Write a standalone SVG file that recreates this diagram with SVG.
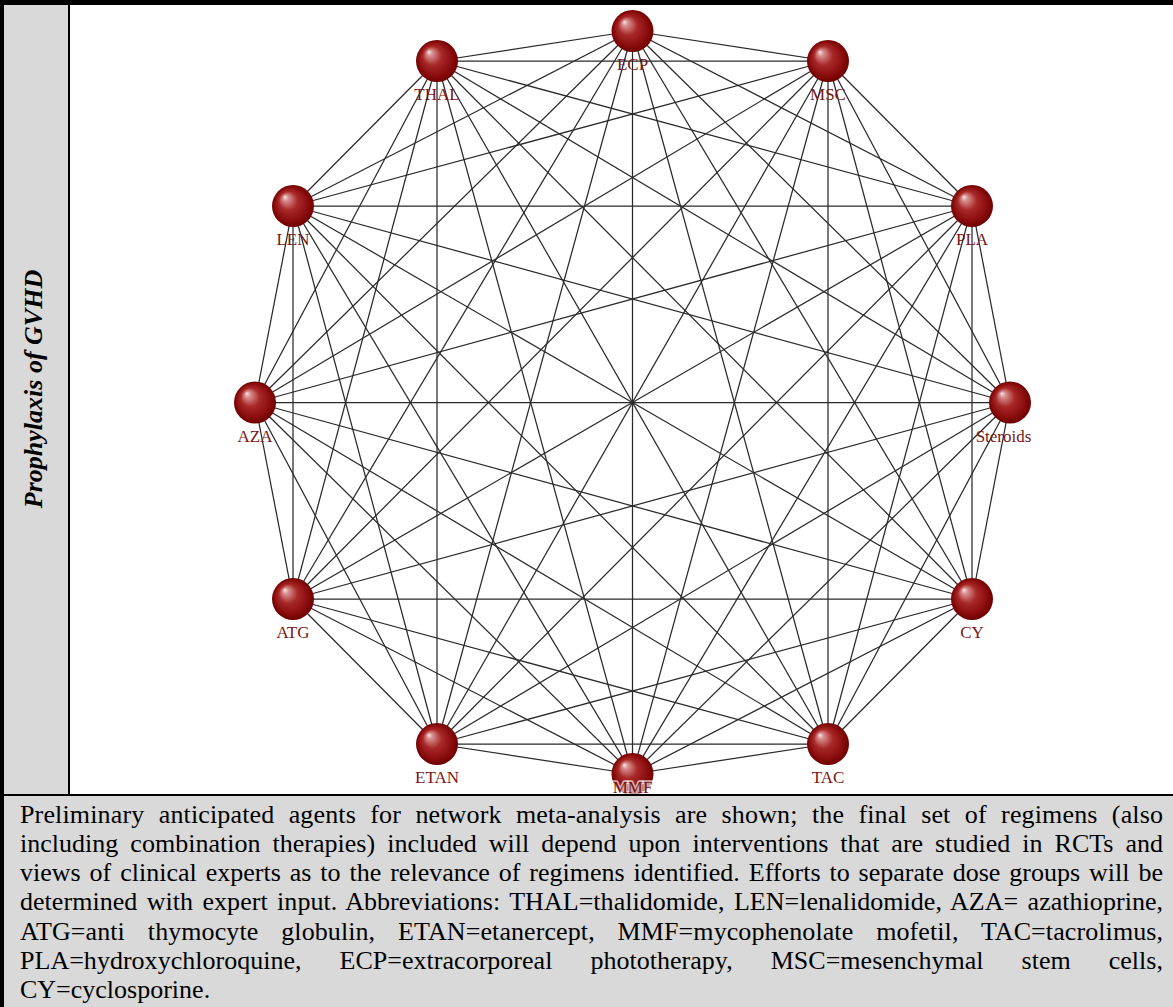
<svg xmlns="http://www.w3.org/2000/svg" width="1173" height="1007" viewBox="0 0 1173 1007">
  <style>
    .edge { stroke: #2a2a2a; stroke-width: 1.25; }
    .ball { fill: url(#ball); }
    .lbl { font-family: "Liberation Serif", "Times New Roman", serif; font-size: 17px; fill: #7a1515; text-anchor: middle; }
    .halo { stroke: #fff; stroke-opacity: 0.65; stroke-width: 3.5; paint-order: stroke; stroke-linejoin: round; }
    .cap { font-family: "Liberation Serif", "Times New Roman", serif; font-size: 26px; fill: #000; }
    .side { font-family: "Liberation Serif", "Times New Roman", serif; font-size: 26px; font-weight: bold; font-style: italic; fill: #000; text-anchor: middle; }
    .panel { fill: #d9d9d9; }
    .rule { fill: #000; }
  </style>
  <defs>
    <radialGradient id="ball" cx="0.5" cy="0.5" r="0.5" fx="0.3" fy="0.28">
      <stop offset="0" stop-color="#f8e8e8"/>
      <stop offset="0.14" stop-color="#d88f8f"/>
      <stop offset="0.45" stop-color="#a82828"/>
      <stop offset="0.8" stop-color="#8a0c0c"/>
      <stop offset="1" stop-color="#6e0000"/>
    </radialGradient>
  </defs>

  <rect x="0" y="0" width="1173" height="1007" fill="#fff"/>

  <!-- table frame and side heading -->
  <g id="frame">
    <rect class="rule" x="0" y="0" width="1173" height="5"/>
    <rect class="rule" x="0" y="5" width="4" height="1002"/>
    <rect class="panel" x="4" y="5" width="64" height="789"/>
    <rect class="rule" x="68" y="5" width="2" height="789"/>
    <text class="side" transform="translate(42,389) rotate(-90)">Prophylaxis of GVHD</text>
  </g>

  <!-- every pair of treatments is connected -->
  <g id="connectors" class="edge">
    <line x1="632.5" y1="31" x2="828" y2="61"/>
    <line x1="632.5" y1="31" x2="972" y2="206"/>
    <line x1="632.5" y1="31" x2="1010" y2="402.5"/>
    <line x1="632.5" y1="31" x2="972" y2="599"/>
    <line x1="632.5" y1="31" x2="828" y2="744"/>
    <line x1="632.5" y1="31" x2="632.5" y2="774"/>
    <line x1="632.5" y1="31" x2="437" y2="744"/>
    <line x1="632.5" y1="31" x2="293" y2="599"/>
    <line x1="632.5" y1="31" x2="255" y2="402.5"/>
    <line x1="632.5" y1="31" x2="293" y2="206"/>
    <line x1="632.5" y1="31" x2="437" y2="61"/>

    <line x1="828" y1="61" x2="972" y2="206"/>
    <line x1="828" y1="61" x2="1010" y2="402.5"/>
    <line x1="828" y1="61" x2="972" y2="599"/>
    <line x1="828" y1="61" x2="828" y2="744"/>
    <line x1="828" y1="61" x2="632.5" y2="774"/>
    <line x1="828" y1="61" x2="437" y2="744"/>
    <line x1="828" y1="61" x2="293" y2="599"/>
    <line x1="828" y1="61" x2="255" y2="402.5"/>
    <line x1="828" y1="61" x2="293" y2="206"/>
    <line x1="828" y1="61" x2="437" y2="61"/>

    <line x1="972" y1="206" x2="1010" y2="402.5"/>
    <line x1="972" y1="206" x2="972" y2="599"/>
    <line x1="972" y1="206" x2="828" y2="744"/>
    <line x1="972" y1="206" x2="632.5" y2="774"/>
    <line x1="972" y1="206" x2="437" y2="744"/>
    <line x1="972" y1="206" x2="293" y2="599"/>
    <line x1="972" y1="206" x2="255" y2="402.5"/>
    <line x1="972" y1="206" x2="293" y2="206"/>
    <line x1="972" y1="206" x2="437" y2="61"/>

    <line x1="1010" y1="402.5" x2="972" y2="599"/>
    <line x1="1010" y1="402.5" x2="828" y2="744"/>
    <line x1="1010" y1="402.5" x2="632.5" y2="774"/>
    <line x1="1010" y1="402.5" x2="437" y2="744"/>
    <line x1="1010" y1="402.5" x2="293" y2="599"/>
    <line x1="1010" y1="402.5" x2="255" y2="402.5"/>
    <line x1="1010" y1="402.5" x2="293" y2="206"/>
    <line x1="1010" y1="402.5" x2="437" y2="61"/>

    <line x1="972" y1="599" x2="828" y2="744"/>
    <line x1="972" y1="599" x2="632.5" y2="774"/>
    <line x1="972" y1="599" x2="437" y2="744"/>
    <line x1="972" y1="599" x2="293" y2="599"/>
    <line x1="972" y1="599" x2="255" y2="402.5"/>
    <line x1="972" y1="599" x2="293" y2="206"/>
    <line x1="972" y1="599" x2="437" y2="61"/>

    <line x1="828" y1="744" x2="632.5" y2="774"/>
    <line x1="828" y1="744" x2="437" y2="744"/>
    <line x1="828" y1="744" x2="293" y2="599"/>
    <line x1="828" y1="744" x2="255" y2="402.5"/>
    <line x1="828" y1="744" x2="293" y2="206"/>
    <line x1="828" y1="744" x2="437" y2="61"/>

    <line x1="632.5" y1="774" x2="437" y2="744"/>
    <line x1="632.5" y1="774" x2="293" y2="599"/>
    <line x1="632.5" y1="774" x2="255" y2="402.5"/>
    <line x1="632.5" y1="774" x2="293" y2="206"/>
    <line x1="632.5" y1="774" x2="437" y2="61"/>

    <line x1="437" y1="744" x2="293" y2="599"/>
    <line x1="437" y1="744" x2="255" y2="402.5"/>
    <line x1="437" y1="744" x2="293" y2="206"/>
    <line x1="437" y1="744" x2="437" y2="61"/>

    <line x1="293" y1="599" x2="255" y2="402.5"/>
    <line x1="293" y1="599" x2="293" y2="206"/>
    <line x1="293" y1="599" x2="437" y2="61"/>

    <line x1="255" y1="402.5" x2="293" y2="206"/>
    <line x1="255" y1="402.5" x2="437" y2="61"/>

    <line x1="293" y1="206" x2="437" y2="61"/>
  </g>

  <!-- treatment nodes -->
  <g id="node-ECP"><circle class="ball" cx="632.5" cy="31" r="21"/><text class="lbl" x="632.5" y="70">ECP</text></g>
  <g id="node-MSC"><circle class="ball" cx="828" cy="61" r="21"/><text class="lbl" x="828" y="100">MSC</text></g>
  <g id="node-PLA"><circle class="ball" cx="972" cy="206" r="21"/><text class="lbl" x="972" y="245">PLA</text></g>
  <g id="node-Steroids"><circle class="ball" cx="1010" cy="402.5" r="21"/><text class="lbl" x="1003.5" y="441.5">Steroids</text></g>
  <g id="node-CY"><circle class="ball" cx="972" cy="599" r="21"/><text class="lbl" x="972" y="638">CY</text></g>
  <g id="node-TAC"><circle class="ball" cx="828" cy="744" r="21"/><text class="lbl" x="828" y="783">TAC</text></g>
  <g id="node-MMF"><circle class="ball" cx="632.5" cy="774" r="21"/><text class="lbl halo" x="632.5" y="793">MMF</text></g>
  <g id="node-ETAN"><circle class="ball" cx="437" cy="744" r="21"/><text class="lbl" x="437" y="783">ETAN</text></g>
  <g id="node-ATG"><circle class="ball" cx="293" cy="599" r="21"/><text class="lbl" x="293" y="638">ATG</text></g>
  <g id="node-AZA"><circle class="ball" cx="255" cy="402.5" r="21"/><text class="lbl" x="255" y="441.5">AZA</text></g>
  <g id="node-LEN"><circle class="ball" cx="293" cy="206" r="21"/><text class="lbl" x="293" y="245">LEN</text></g>
  <g id="node-THAL"><circle class="ball" cx="437" cy="61" r="21"/><text class="lbl" x="437" y="100">THAL</text></g>

  <!-- footnote row -->
  <g id="footnote">
    <rect class="panel" x="4" y="796" width="1169" height="211"/>
    <rect class="rule" x="0" y="794" width="1173" height="2"/>
    <text class="cap" x="20" y="822.5" style="word-spacing:7.68px" textLength="1143" lengthAdjust="spacing">Preliminary anticipated agents for network meta-analysis are shown; the final set of regimens (also</text>
    <text class="cap" x="20" y="851.75" style="word-spacing:5.43px" textLength="1143" lengthAdjust="spacing">including combination therapies) included will depend upon interventions that are studied in RCTs and</text>
    <text class="cap" x="20" y="881" style="word-spacing:2.42px" textLength="1143" lengthAdjust="spacing">views of clinical experts as to the relevance of regimens identified. Efforts to separate dose groups will be</text>
    <text class="cap" x="20" y="910.25" style="word-spacing:2.87px" textLength="1143" lengthAdjust="spacing">determined with expert input. Abbreviations: THAL=thalidomide, LEN=lenalidomide, AZA= azathioprine,</text>
    <text class="cap" x="20" y="939.5" style="word-spacing:16.3px" textLength="1143" lengthAdjust="spacing">ATG=anti thymocyte globulin, ETAN=etanercept, MMF=mycophenolate mofetil, TAC=tacrolimus,</text>
    <text class="cap" x="20" y="968.75" style="word-spacing:31.5px" textLength="1143" lengthAdjust="spacing">PLA=hydroxychloroquine, ECP=extracorporeal phototherapy, MSC=mesenchymal stem cells,</text>
    <text class="cap" x="20" y="998">CY=cyclosporine.</text>
  </g>
</svg>
